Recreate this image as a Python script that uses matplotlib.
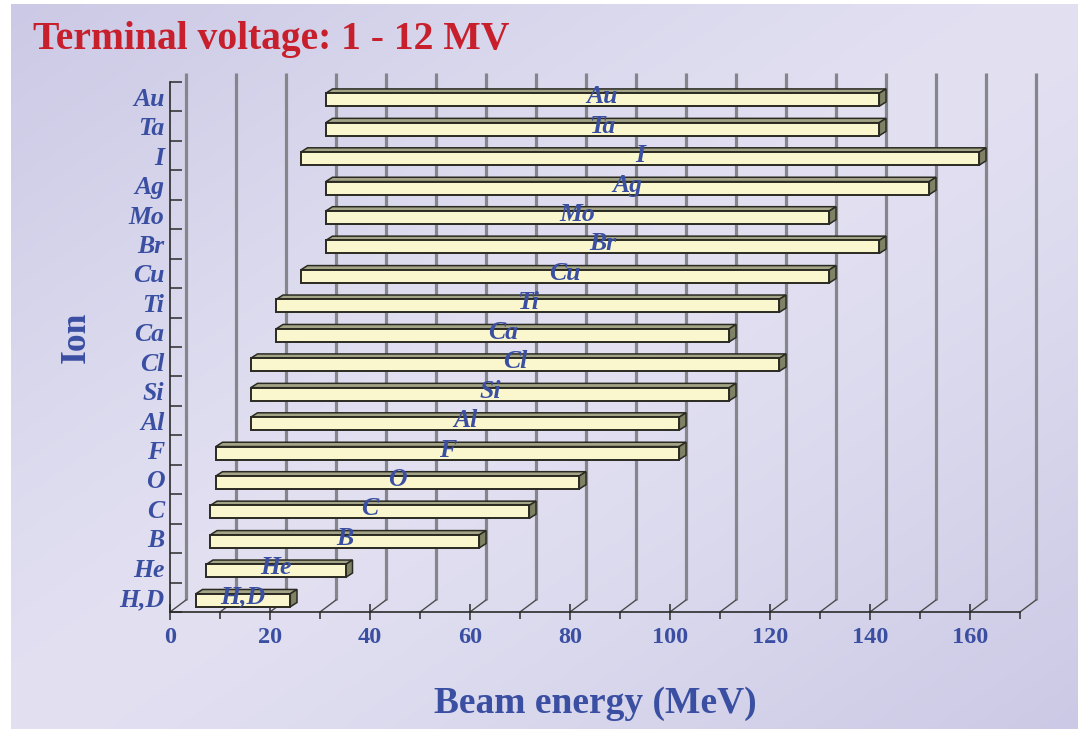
import numpy as np
import matplotlib
matplotlib.use("Agg")
import matplotlib.pyplot as plt
from matplotlib.patches import Polygon

# ion species, top row first, with beam energy range in MeV
ions = ["Au", "Ta", "I", "Ag", "Mo", "Br", "Cu", "Ti", "Ca", "Cl",
        "Si", "Al", "F", "O", "C", "B", "He", "H,D"]
e_min = [29.3, 29.3, 24.3, 29.3, 29.3, 29.3, 24.3, 19.4, 19.4, 14.3,
         14.3, 14.3, 7.3, 7.3, 6.2, 6.2, 5.4, 3.3]
e_max = [140, 140, 160, 150, 130, 140, 130, 120, 110, 120,
         110, 100, 100, 80, 70, 60, 33.3, 22.2]

x_ticks = list(range(0, 161, 20))
x_minor = list(range(10, 171, 20))
grid_x = list(range(0, 171, 10))

BLUE = "#3a4fa2"
RED = "#c81f2c"
SERIF = ["Liberation Serif", "DejaVu Serif"]

W, H = 1086, 729
fig = plt.figure(figsize=(W / 100, H / 100), dpi=100, facecolor="white")

# lavender diagonal gradient backdrop
bg = fig.add_axes([11 / W, 0, 1067 / W, 725 / H], zorder=-10)
gx, gy = np.meshgrid(np.linspace(0, 1, 400), np.linspace(0, 1, 300))
t = np.abs((gx + gy) - 1.0) ** 1.3
light = np.array([226, 224, 241]) / 255
dark = np.array([203, 201, 229]) / 255
img = light[None, None, :] * (1 - t[..., None]) + dark[None, None, :] * t[..., None]
bg.imshow(img, aspect="auto", extent=(0, 1, 0, 1), origin="upper")
bg.axis("off")

ax = fig.add_axes([170 / W, 117 / H, 850 / W, 530 / H])
ax.set_facecolor("none")
ax.set_xlim(0, 170)
ax.set_ylim(-0.5, 17.5)

# pixel -> data scale factors for the pseudo-3D offsets
px_x = 850 / 170.0
px_y = 530 / 18.0
floor_dx, floor_dy = 16 / px_x, 12 / px_y
top_y = 17.5 + 9 / px_y

# back wall lines and floor diagonals
for g in grid_x:
    ax.plot([g + floor_dx, g + floor_dx], [-0.5 + floor_dy, top_y],
            color="#85858c", lw=2.3, zorder=1, clip_on=False,
            solid_capstyle="butt")
    ax.plot([g, g + floor_dx], [-0.5, -0.5 + floor_dy],
            color="#4a4a4a", lw=1.0, zorder=1, clip_on=False)

# 3D bars
front_off = 9.3 / px_x
bar_dx, bar_dy = 6.7 / px_x, 4.3 / px_y
bar_h = 13 / px_y
bar_shift = -3 / px_y
n = len(ions)
for i, (name, s, e) in enumerate(zip(ions, e_min, e_max)):
    yc = n - 1 - i
    x0, x1 = s + front_off, e + front_off
    yb = yc + bar_shift - bar_h / 2
    yt = yc + bar_shift + bar_h / 2
    top = Polygon([(x0, yt), (x1, yt), (x1 + bar_dx, yt + bar_dy), (x0 + bar_dx, yt + bar_dy)],
                  closed=True, facecolor="#a4a586", edgecolor="#2a2a22", lw=1.1, zorder=3)
    side = Polygon([(x1, yb), (x1, yt), (x1 + bar_dx, yt + bar_dy), (x1 + bar_dx, yb + bar_dy)],
                   closed=True, facecolor="#808266", edgecolor="#2a2a22", lw=1.1, zorder=3)
    front = Polygon([(x0, yb), (x1, yb), (x1, yt), (x0, yt)],
                    closed=True, facecolor="#faf7cf", edgecolor="#2a2a22", lw=1.4, zorder=4)
    for p in (top, side, front):
        ax.add_patch(p)
    ax.text((x0 + x1) / 2, yc, name, ha="center", va="center", color=BLUE,
            fontsize=18.5, fontweight="bold", fontstyle="italic", family=SERIF,
            zorder=5)

# axes, spines and ticks
for side_name in ("top", "right"):
    ax.spines[side_name].set_visible(False)
for side_name in ("left", "bottom"):
    ax.spines[side_name].set_color("#2b2b2b")
    ax.spines[side_name].set_linewidth(1.2)

ax.set_xticks(x_ticks)
ax.set_xticks(x_minor, minor=True)
ax.set_xticklabels([str(v) for v in x_ticks])
ax.tick_params(axis="x", which="major", direction="inout", length=12, width=1.1,
               color="#2b2b2b", pad=5, labelsize=17.5, labelcolor=BLUE)
ax.tick_params(axis="x", which="minor", direction="out", length=5, width=1.1,
               color="#2b2b2b")

ax.set_yticks(np.arange(-0.5, 17.6, 1.0))
ax.set_yticklabels([])
ax.set_yticks(np.arange(n), minor=True)
ax.set_yticklabels(ions[::-1], minor=True)
ax.tick_params(axis="y", which="major", direction="in", length=8.6, width=1.1,
               color="#2b2b2b")
ax.tick_params(axis="y", which="minor", length=0, pad=4, labelsize=18.5,
               labelcolor=BLUE)

for lab in ax.get_xticklabels():
    lab.set_fontfamily(SERIF)
    lab.set_fontweight("bold")
for lab in ax.get_yticklabels(minor=True):
    lab.set_fontfamily(SERIF)
    lab.set_fontweight("bold")
    lab.set_fontstyle("italic")

ax.set_xlabel("Beam energy (MeV)", fontsize=27, fontweight="bold",
              family=SERIF, color=BLUE, va="center")
ax.xaxis.set_label_coords(0.5, -0.172)
ax.text(-0.1106, 0.519, "Ion", transform=ax.transAxes, rotation=90,
        ha="center", va="center", fontsize=25.5, fontweight="bold",
        family=SERIF, color=BLUE)

fig.text(33 / W, 1 - 49 / H, "Terminal voltage: 1 - 12 MV", ha="left",
         va="baseline", fontsize=28.5, fontweight="bold", family=SERIF,
         color=RED)

fig.savefig("out.png", dpi=100, facecolor="white")
